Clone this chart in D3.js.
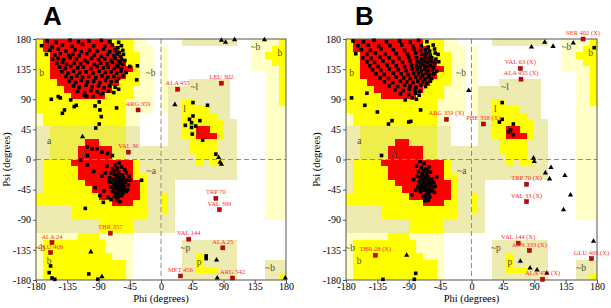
<!DOCTYPE html>
<html>
<head>
<meta charset="utf-8">
<script src="https://cdn.jsdelivr.net/npm/d3@7"></script>
<style>
  body { margin: 0; background: #fff; }
</style>
</head>
<body>
<svg id="chart" width="611" height="308" font-family="Liberation Serif, Times New Roman, serif"></svg>
<script>
// axis ticks
var phiTicks = [-180, -135, -90, -45, 0, 45, 90, 135, 180];
var psiTicks = [180, 135, 90, 45, 0, -45, -90, -135, -180];

// region map, 10 degree cells: rows psi 180 -> -180, columns phi -180 -> 180
// R core, Y allowed, M allowed (shaded band), K / P generous, . disallowed
var regionGrid = [
  "YRRRRRRRRRRYYYPP.." + "...KKKKKKKK..PPPPY",
  "YRRRRRRRRRRRYYPPP." + "P............PPPYY",
  "YYRRRRRRRRRRYYYPP." + "P............PPYYY",
  "YYRRRRRRRRRRRYYPP." + "P............PPPYY",
  "YYRRRRRRRRRRRRYPP." + "P............PPPPY",
  "YYRRRRRRRRRRRYYPP." + "P..............PPY",
  "YYYRRRRRRRRRYYYPP." + "P...KKKKKK.....PPY",
  "YYYYRRRRRRRYYYPPP." + "PKKKKKKKKK.....PPY",
  "YYYYYRRRRRYYYYPPP." + "PKKKKKKKKK.....PPY",
  "YYYYYYYYYYYYYPPPP." + "PKKYYKKKKK.....PPY",
  "YYYYYYYYYYYYYPPPP." + "PKKYYYYKKK.....PPP",
  "PYYYYYYYYYYYYPP..." + ".KKYYYYYKK.....PPP",
  "PYYYYYYYYYYYYPP..." + ".KKYYYYYYKK....PPP",
  "KKMMMMMMMMMMMKK..." + ".KKYYRRYYKK....PPP",
  "KKMMMMMMMMMMMKK..." + ".KKYYRRRYKK....PPP",
  "KKMMMMMRRMMMMKK..." + ".KKKYYYYKKK....PPP",
  "KKMMMMRRRRRMMKKKKK" + "KKKKYYYYKKK....PPP",
  "KKMMMMRRRRRMMKKKKK" + "KKKKKYYYKKK....PPP",
  "KYYYYRRRRRRRRRYKKK" + "KKKKKYKYYKK....PPP",
  "KYYYYYRRRRRRRRYKKK" + "KKKKKKKKKKK....PPP",
  "KYYYYYRRRRRRRRYYKK" + "KKKKKKKKKKK....PPP",
  "KYYYYYYRRRRRRRRYKK" + "KK.............PPP",
  "KYYYYYYYRRRRRRRYKK" + "KK.............PPP",
  "YYYYYYYYYRRRRRRYKK" + "YK.............PPP",
  "YYYYYYYYYYYRRRYYKK" + "YK.............PPP",
  "KKKKKYYYYYYYYYYYKK" + "YK.............PPP",
  "KKKKKYYYYYYYYYYYKK" + "KK.............PPP",
  "KKKKKKKKKYYYYYKKKK" + "KK................",
  "KKKKKKKKKYYYYYKKKK" + "KK................",
  "PPPPPPYYYPPPPP...." + "..................",
  "PYYYYYYYYYPPPP...." + "...KKKKKKKK.......",
  "PYYYYYYYYYPPPP...." + "...KKKKKKKK.......",
  "PYYYYYYYYYYPPP...." + "...KKYKKKKK.......",
  "PYYYYYYYYYYYYP...." + "...KKYKKKKK....KKK",
  "PYYYYYYYYYYYYP...." + "...KKYYYKKK....KKK",
  "PYYYYYYYYYYYYP...." + "...KKKKKKKK....KKY"
];
var regionColors = { R: "#ff0000", Y: "#ffff00", M: "#eded4c", K: "#eeebb0", P: "#ffffc6", ".": "#ffffff" };

// region names [text, phi, psi]
var regionLabels = [
  ["B", -161, 168], ["b", -172, 129], ["~b", -15, 130], ["a", -161, 28], ["A", -111, 8],
  ["~a", -14, -16], ["~l", 48, 109], ["l", 34, 76], ["L", 54, 44], ["~b", 136, 169],
  ["b", 171, 159], ["~p", 35, -132], ["p", 55, -152], ["~b", -174, -131], ["b", -161, -151],
  ["~b", 157, -161]
];

// panel A: residues [phi, psi]
var aResidues = [
  [-164,177],[-151,175],[-131,178],[-119,176],[-104,177],[-86,178],[-74,176],[-61,175],
  [-172,170],[-157,168],[-142,171],[-128,169],[-113,172],[-97,170],[-81,169],[-70,171],[-62,167],[-57,170],
  [-160,163],[-148,165],[-137,162],[-124,164],[-115,161],[-103,163],[-92,162],[-83,165],[-74,161],[-66,164],[-60,160],[-55,163],
  [-165,157],[-153,156],[-145,158],[-133,155],[-127,157],[-118,155],[-107,158],[-96,156],[-86,154],[-77,157],[-68,155],[-63,158],[-58,154],[-54,157],
  [-156,150],[-148,151],[-140,149],[-131,152],[-122,150],[-110,148],[-100,151],[-90,149],[-81,150],[-72,148],[-66,151],[-61,147],[-57,150],[-52,148],
  [-150,144],[-142,145],[-136,142],[-125,144],[-116,143],[-106,145],[-96,142],[-87,144],[-78,143],[-70,145],[-64,141],[-59,144],[-55,142],
  [-146,138],[-138,136],[-130,139],[-120,137],[-112,138],[-101,136],[-92,139],[-83,137],[-76,138],[-67,136],[-62,139],[-57,135],[-45,139],
  [-143,131],[-134,129],[-126,132],[-117,130],[-108,131],[-98,129],[-89,132],[-80,130],[-72,131],[-64,129],[-58,132],[-50,130],
  [-137,124],[-129,122],[-121,125],[-113,123],[-104,124],[-94,122],[-85,125],[-77,123],[-68,124],[-61,121],[-55,125],
  [-132,117],[-123,115],[-115,118],[-106,116],[-97,117],[-88,115],[-80,118],[-72,116],[-64,117],
  [-126,110],[-118,108],[-108,111],[-99,109],[-90,110],[-82,107],[-74,110],[-66,108],
  [-120,102],[-110,100],[-101,103],[-92,101],[-84,99],[-76,102],[-68,100],
  [-110,96],[-98,94],[-87,97],
  [-158,90],[-148,94],[-145,92],[-142,69],[-139,74],[-130,89],[-125,79],[-122,81],[-107,94],[-95,80],
  [-89,86],[-88,74],[-86,64],[-94,47],[-89,53],[-64,77],[-61,105],[-35,119],[-34,140],
  [-106,19],[-99,16],[-92,16],[-85,11],[-77,9],[-70,6],[-106,6],
  [-66,-8],[-60,-5],[-70,-14],[-63,-13],[-57,-11],[-52,-15],[-72,-20],[-67,-22],[-61,-19],[-56,-23],[-50,-20],[-46,-25],
  [-74,-27],[-69,-29],[-64,-26],[-59,-30],[-54,-27],[-49,-31],[-71,-34],[-66,-36],[-62,-33],[-57,-37],[-52,-34],[-47,-38],
  [-73,-41],[-68,-43],[-63,-40],[-58,-44],[-53,-41],[-48,-45],[-70,-48],[-65,-50],[-60,-47],[-55,-51],[-50,-48],
  [-67,-55],[-62,-57],[-57,-54],[-64,-61],[-59,-63],
  [-65,-31],[-61,-38],[-58,-34],[-63,-45],[-56,-42],[-60,-27],[-66,-42],[-54,-38],[-62,-23],[-68,-37],[-59,-51],
  [-64,-35],[-55,-31],[-61,-42],[-57,-47],[-67,-17],[-53,-46],[-63,-52],
  [-78,-10],[-82,-47],[-76,-56],[-75,-33],[-44,-31],[-80,-20],[-72,-60],
  [-116,-1],[-106,-8],[-97,-18],[-85,-25],[-95,-42],[-88,-54],[-83,-64],[-109,-73],[-28,-31],
  [-161,-169],[-159,-159],[-157,-177],[-153,-179],[-104,-171],[-91,-179],
  [65,-144],[65,-148],
  [46,85],[67,81],[46,65],[41,60],[44,55],[56,58],[35,51],[44,48],[50,50],[45,38],[60,29],[79,8]
];
var aGlycines = [
  [87,178],[93,175],[106,179],[149,179],[20,82],[-113,34],
  [83,3],[85,-4],[87,-7],[-101,-138],[-85,-175],[80,-150],[81,-177],[179,-177]
];
var aOutlierNames = ["ALA 455", "LEU 302", "ARG 359", "VAL 36", "TRP 70", "VAL 399", "THR 357",
  "ALA 24", "GLU 408", "VAL 144", "ALA 25", "MET 456", "ARG 542"];
var aOutlierPhi = [24, 87, -33, -47, 79, 84, -73, -157, -159, 40, 89, 28, 103];
var aOutlierPsi = [105, 114, 74, 11, -58, -75, -110, -124, -139, -119, -132, -174, -177];

// panel B
var bResidues = [
  [-170,177],[-155,176],[-140,178],[-122,176],[-103,177],[-88,175],[-76,178],[-64,176],
  [-163,170],[-148,171],[-133,169],[-117,170],[-100,171],[-84,169],[-72,170],[-62,168],[-55,171],
  [-158,164],[-145,163],[-130,165],[-112,164],[-96,163],[-82,165],[-73,163],[-66,164],[-60,162],[-53,165],
  [-166,158],[-150,157],[-138,159],[-124,157],[-108,158],[-92,157],[-80,159],[-71,157],[-65,158],[-59,156],[-52,159],[-48,157],
  [-156,152],[-144,151],[-131,153],[-118,152],[-104,151],[-90,153],[-79,152],[-72,150],[-67,153],[-62,151],[-57,152],[-51,150],
  [-150,146],[-139,145],[-127,147],[-113,146],[-99,145],[-88,147],[-78,146],[-73,144],[-68,147],[-63,145],[-58,146],[-53,144],[-47,146],
  [-146,140],[-134,139],[-121,141],[-108,140],[-96,139],[-86,141],[-79,140],[-74,138],[-69,141],[-64,139],[-59,140],[-54,138],
  [-142,134],[-130,133],[-118,135],[-105,134],[-94,133],[-85,135],[-78,134],[-72,132],[-67,135],[-62,133],[-56,134],[-50,132],
  [-137,128],[-125,127],[-112,129],[-101,128],[-91,127],[-83,129],[-76,128],[-70,126],[-65,129],[-60,127],[-54,128],
  [-131,122],[-119,121],[-108,123],[-97,122],[-88,121],[-80,123],[-73,122],[-67,120],[-62,123],[-57,121],
  [-125,116],[-113,115],[-102,117],[-93,116],[-84,115],[-77,117],[-70,116],[-64,114],[-59,117],
  [-118,110],[-106,109],[-96,111],[-88,110],[-80,108],[-73,111],[-66,109],
  [-110,104],[-98,103],[-89,105],[-81,104],[-74,102],
  [-102,98],[-90,97],[-80,99],[-75,96],
  [-85,92],[-79,90],
  [-172,92],[-153,81],[-150,99],[-135,71],[-119,53],[-114,58],[-90,56],[-87,57],[-73,74],[-95,89],
  [-129,6],
  [-74,-3],[-68,-6],[-79,-10],[-72,-12],[-66,-14],[-61,-11],[-76,-18],[-70,-20],[-64,-22],[-59,-19],
  [-78,-25],[-73,-27],[-67,-28],[-62,-26],[-57,-29],[-75,-33],[-69,-35],[-64,-32],[-59,-36],[-54,-34],
  [-77,-40],[-71,-42],[-66,-39],[-61,-43],[-56,-41],[-73,-48],[-68,-46],[-63,-50],[-58,-47],[-53,-49],
  [-70,-55],[-65,-53],[-60,-56],[-67,-62],[-62,-61],
  [-70,-30],[-66,-25],[-63,-37],[-68,-41],[-60,-31],[-72,-37],[-65,-45],[-58,-39],[-69,-17],[-62,-47],
  [-71,-23],[-64,-28],[-67,-34],[-61,-52],[-74,-44],[-56,-45],[-63,-17],[-66,-57],
  [-83,-30],[-85,-53],[-52,-40],[-80,-46],[-50,-26],
  [-80,-170],[-82,-179],[-127,-179],
  [44,85],[44,60],[40,56],[60,53],[56,44],[53,41],[60,37],
  [176,167]
];
var bGlycines = [
  [86,168],[105,175],[117,169],[146,174],[-4,103],
  [89,2],[90,-3],[106,-20],[114,-12],[112,-29],[134,-24],[142,-53],[132,-75],
  [175,-122],[70,-152],[84,-162],[94,-165],[108,-170],[-93,-143]
];
var bOutlierNames = ["SER 402 (X)", "VAL 63 (X)", "ALA 455 (X)", "ARG 359 (X)", "PHE 358 (X)", "TRP 70 (X)",
  "VAL 33 (X)", "VAL 144 (X)", "ASN 333 (X)", "GLU 408 (X)", "ALA 453 (X)", "THR 28 (X)"];
var bOutlierPhi = [160, 70, 71, -36, 17, 79, 79, 67, 83, 172, 102, -138];
var bOutlierPsi = [180, 136, 120, 60, 53, -37, -63, -125, -136, -148, -179, -143];

var panels = [
  { letter: "A", left: 36, right: 286, letterX: 43, titleX: 6,
    residues: aResidues, glycines: aGlycines, names: aOutlierNames, phi: aOutlierPhi, psi: aOutlierPsi },
  { letter: "B", left: 346, right: 597, letterX: 355, titleX: 316,
    residues: bResidues, glycines: bGlycines, names: bOutlierNames, phi: bOutlierPhi, psi: bOutlierPsi }
];
var plotTop = 39, plotBottom = 280;

var svg = d3.select("#chart");

panels.forEach(function (p) {
  var x = d3.scaleLinear().domain([-180, 180]).range([p.left, p.right]);
  var y = d3.scaleLinear().domain([-180, 180]).range([plotBottom, plotTop]);
  var g = svg.append("g");

  // region cells
  var cells = [];
  regionGrid.forEach(function (row, r) {
    row.split("").forEach(function (ch, c) {
      cells.push({ phi: -180 + c * 10, psi: 180 - r * 10, k: ch });
    });
  });
  g.append("g").selectAll("rect").data(cells).enter().append("rect")
    .attr("x", function (d) { return x(d.phi); })
    .attr("y", function (d) { return y(d.psi); })
    .attr("width", function (d) { return x(d.phi + 10) - x(d.phi) + 0.4; })
    .attr("height", function (d) { return y(d.psi - 10) - y(d.psi) + 0.4; })
    .attr("fill", function (d) { return regionColors[d.k]; })
    .attr("shape-rendering", "crispEdges");

  // zero lines
  g.append("line").attr("x1", x(0)).attr("x2", x(0)).attr("y1", y(180)).attr("y2", y(-180))
    .attr("stroke", "#8c8c8c").attr("stroke-dasharray", "5,3");
  g.append("line").attr("x1", x(-180)).attr("x2", x(180)).attr("y1", y(0)).attr("y2", y(0))
    .attr("stroke", "#8c8c8c").attr("stroke-dasharray", "5,3");

  // region names
  g.append("g").selectAll("text").data(regionLabels).enter().append("text")
    .attr("x", function (d) { return x(d[1]); })
    .attr("y", function (d) { return y(d[2]); })
    .attr("dy", "0.35em")
    .attr("text-anchor", "middle")
    .attr("font-size", "9.5px")
    .attr("fill", "#4a4a30")
    .text(function (d) { return d[0]; });

  // frame
  g.append("rect").attr("x", x(-180)).attr("y", y(180))
    .attr("width", x(180) - x(-180)).attr("height", y(-180) - y(180))
    .attr("fill", "none").attr("stroke", "#555").attr("stroke-width", 1);

  // residues
  g.append("g").selectAll("rect").data(p.residues).enter().append("rect")
    .attr("x", function (d) { return x(d[0]) - 1.8; })
    .attr("y", function (d) { return y(d[1]) - 1.8; })
    .attr("width", 3.6).attr("height", 3.6)
    .attr("fill", "#000");

  // glycines
  g.append("g").selectAll("path").data(p.glycines).enter().append("path")
    .attr("d", d3.symbol(d3.symbolTriangle, 12))
    .attr("transform", function (d) { return "translate(" + x(d[0]) + "," + y(d[1]) + ")"; })
    .attr("fill", "#000");

  // outliers
  var out = p.names.map(function (n, i) { return { name: n, phi: p.phi[i], psi: p.psi[i] }; });
  var og = g.append("g").selectAll("g").data(out).enter().append("g");
  og.append("rect")
    .attr("x", function (d) { return x(d.phi) - 2; })
    .attr("y", function (d) { return y(d.psi) - 2; })
    .attr("width", 4).attr("height", 4)
    .attr("fill", "#d00000").attr("stroke", "#700").attr("stroke-width", 0.5);
  og.append("text")
    .attr("x", function (d) { return x(d.phi); })
    .attr("y", function (d) { return y(d.psi) - 4; })
    .attr("text-anchor", "middle")
    .attr("font-size", "6.5px")
    .attr("fill", "#ff2a2a")
    .text(function (d) { return d.name; });

  // axes
  var xAxis = d3.axisBottom(x).tickValues(phiTicks).tickSize(3).tickFormat(function (d) { return String(d); });
  var yAxis = d3.axisLeft(y).tickValues(psiTicks).tickSize(3).tickFormat(function (d) { return String(d); });
  var xa = g.append("g").attr("transform", "translate(0," + plotBottom + ")").call(xAxis);
  var ya = g.append("g").attr("transform", "translate(" + p.left + ",0)").call(yAxis);
  [xa, ya].forEach(function (a) {
    a.attr("font-family", null).attr("font-size", null);
    a.select(".domain").remove();
    a.selectAll("line").attr("stroke", "#555");
    a.selectAll("text").attr("font-size", "10px").attr("fill", "#000");
  });
  xa.selectAll("text").attr("y", 3).attr("dy", "0.71em");
  ya.selectAll("text").attr("x", -5);

  // titles
  svg.append("text").attr("x", (p.left + p.right) / 2).attr("y", 302)
    .attr("text-anchor", "middle").attr("font-size", "10.5px").text("Phi (degrees)");
  svg.append("text").attr("transform", "translate(" + (p.titleX + 4) + "," + ((plotTop + plotBottom) / 2) + ") rotate(-90)")
    .attr("text-anchor", "middle").attr("font-size", "10.5px").text("Psi (degrees)");
  svg.append("text").attr("x", p.letterX).attr("y", 25)
    .attr("font-family", "Liberation Sans, Arial, sans-serif").attr("font-weight", "bold")
    .attr("font-size", "26px").text(p.letter);
});
</script>
</body>
</html>
